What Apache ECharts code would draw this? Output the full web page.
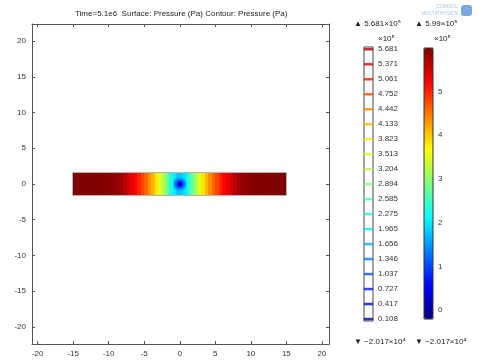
<!DOCTYPE html>
<html>
<head>
<meta charset="utf-8">
<script src="https://cdn.jsdelivr.net/npm/echarts@6/dist/echarts.min.js"></script>
<style>
  html, body { margin: 0; padding: 0; background: #fff; }
  #chart { width: 480px; height: 360px; }
</style>
</head>
<body>
<div id="chart"></div>
<script>
// pressure in units of 1e5 Pa
const pMin = -0.2017
const pMax = 5.99

// surface: pressure per 0.5-wide column along the strip, x = -15 .. 15
const stripX = [-15, 15]
const stripY = [-1.5, 1.5]
const cellWidth = 0.5
const columnValue = [
  5.99, 5.99, 5.99, 5.99, 5.99, 5.98, 5.98, 5.97, 5.96, 5.95,
  5.93, 5.9, 5.85, 5.78, 5.65, 5.5, 5.35, 5.2, 5.0, 4.8,
  4.6, 4.35, 4.1, 3.8, 3.5, 3.15, 2.75, 2.3, 2.0, 1.8,
  1.8, 2.0, 2.3, 2.75, 3.15, 3.5, 3.8, 4.1, 4.35, 4.6,
  4.8, 5.0, 5.2, 5.35, 5.5, 5.65, 5.78, 5.85, 5.9, 5.93,
  5.95, 5.96, 5.97, 5.98, 5.98, 5.99, 5.99, 5.99, 5.99, 5.99
]

// low-pressure spot round the well at the centre
const wellX = 0
const wellY = 0
const coreRadius = [0.95, 0.7, 0.45, 0.28, 0.14]
const coreValue = [1.6, 1.2, 0.8, 0.35, 0.0]

// contour levels shown in the left legend
const contourLevels = [
  5.681, 5.371, 5.061, 4.752, 4.442, 4.133, 3.823, 3.513, 3.204, 2.894,
  2.585, 2.275, 1.965, 1.656, 1.346, 1.037, 0.727, 0.417, 0.108
]

const axisTicks = [-20, -15, -10, -5, 0, 5, 10, 15, 20]
const colorbarTicks = [0, 1, 2, 3, 4, 5]

const jet = ['#00007f', '#0000ff', '#007fff', '#00ffff', '#7fff7f', '#ffff00', '#ff7f00', '#ff0000', '#7f0000']
const font = 'Liberation Sans'
const txt = '#222'

const columnData = columnValue.map((v, i) => [stripX[0] + (i + 0.5) * cellWidth, v])
const coreData = coreRadius.map((r, i) => [r, coreValue[i]])

const mainAxisX = (position, showLabel) => ({
  type: 'value', gridIndex: 0, position: position,
  min: -20.8, max: 21.0,
  axisLine: { show: true, onZero: false, lineStyle: { color: '#555' } },
  axisTick: { show: true, inside: true, length: 3, customValues: axisTicks, lineStyle: { color: '#555' } },
  axisLabel: { show: showLabel, customValues: axisTicks, fontSize: 8, color: '#333', fontFamily: font, margin: 6 },
  splitLine: { show: false }
})
const mainAxisY = (position, showLabel) => ({
  type: 'value', gridIndex: 0, position: position,
  min: -22.4, max: 22.4,
  axisLine: { show: true, onZero: false, lineStyle: { color: '#555' } },
  axisTick: { show: true, inside: true, length: 3, customValues: axisTicks, lineStyle: { color: '#555' } },
  axisLabel: { show: showLabel, customValues: axisTicks, fontSize: 8, color: '#333', fontFamily: font, margin: 6 },
  splitLine: { show: false }
})

// text with a superscript exponent
const supText = (left, top, text) => ({
  type: 'text', left: left, top: top,
  style: {
    text: text,
    fill: txt,
    rich: {
      a: { fontSize: 8, fontFamily: font, fill: txt },
      s: { fontSize: 8, fontFamily: 'DejaVu Sans', fill: txt }
    }
  }
})

const chart = echarts.init(document.getElementById('chart'))

chart.setOption({
  animation: false,
  backgroundColor: '#fff',
  title: {
    text: 'Time=5.1e6  Surface: Pressure (Pa) Contour: Pressure (Pa)',
    left: 70, top: 5,
    textStyle: { fontSize: 8, fontWeight: 'normal', color: txt, fontFamily: font }
  },
  grid: [
    { left: 32, top: 24, width: 297, height: 320 },
    { left: 364, top: 47, width: 9, height: 274, show: true, backgroundColor: '#fff', borderColor: '#444', borderWidth: 1 },
    { left: 424, top: 48, width: 9, height: 271, show: true, backgroundColor: 'transparent', borderColor: '#333', borderWidth: 1, z: 6 }
  ],
  xAxis: [
    mainAxisX('bottom', true),
    mainAxisX('top', false),
    { type: 'value', gridIndex: 1, min: 0, max: 1, show: false },
    { type: 'value', gridIndex: 2, min: 0, max: 1, show: false }
  ],
  yAxis: [
    mainAxisY('left', true),
    mainAxisY('right', false),
    {
      type: 'value', gridIndex: 1, position: 'right', min: 0.067, max: 5.728,
      axisLine: { show: false }, axisTick: { show: false }, splitLine: { show: false },
      axisLabel: { customValues: contourLevels, formatter: v => v.toFixed(3), fontSize: 8, color: '#333', fontFamily: font, margin: 5 }
    },
    {
      type: 'value', gridIndex: 2, position: 'right', min: pMin, max: pMax,
      axisLine: { show: false }, splitLine: { show: false },
      axisTick: { show: true, length: 2, customValues: colorbarTicks, lineStyle: { color: '#333' } },
      axisLabel: { customValues: colorbarTicks, fontSize: 8, color: '#333', fontFamily: font, margin: 5 }
    }
  ],
  visualMap: {
    type: 'continuous',
    seriesIndex: [0, 1, 3],
    dimension: 1,
    min: pMin, max: pMax,
    calculable: false,
    realtime: false,
    text: null,
    showLabel: false,
    orient: 'vertical',
    left: 424, top: 48,
    itemWidth: 9, itemHeight: 271,
    padding: 0,
    inRange: { color: jet }
  },
  graphic: [
    supText(354, 20, '{a|▲ 5.681×10}{s|⁵}'),
    supText(415, 20, '{a|▲ 5.99×10}{s|⁵}'),
    supText(378, 35, '{a|×10}{s|⁵}'),
    supText(434, 35, '{a|×10}{s|⁵}'),
    supText(354, 338, '{a|▼ −2.017×10}{s|⁴}'),
    supText(415, 338, '{a|▼ −2.017×10}{s|⁴}'),
    { type: 'text', right: 22, top: 4, style: { text: 'COMSOL', font: '5px ' + font, fill: '#a9c6e6', align: 'right' } },
    { type: 'text', right: 22, top: 11, style: { text: 'MULTIPHYSICS', font: '5px ' + font, fill: '#a9c6e6', align: 'right' } },
    { type: 'rect', right: 8, top: 5, shape: { width: 11, height: 11, r: 3 }, style: { fill: '#7aa9dc' } }
  ],
  series: [
    {
      type: 'custom', name: 'surface', xAxisIndex: 0, yAxisIndex: 0,
      data: columnData,
      renderItem: (params, api) => {
        const x = api.value(0)
        const p0 = api.coord([x - cellWidth / 2, stripY[1]])
        const p1 = api.coord([x + cellWidth / 2, stripY[0]])
        const x0 = Math.round(p0[0])
        const x1 = Math.round(p1[0])
        return {
          type: 'rect',
          shape: { x: x0, y: Math.round(p0[1]), width: x1 - x0, height: Math.round(p1[1]) - Math.round(p0[1]) },
          style: { fill: api.visual('color') }
        }
      }
    },
    {
      type: 'custom', name: 'well', xAxisIndex: 0, yAxisIndex: 0,
      data: coreData,
      renderItem: (params, api) => {
        const r = api.value(0)
        const c = api.coord([wellX, wellY])
        const s = api.size([r, r])
        return {
          type: 'ellipse',
          shape: { cx: c[0], cy: c[1], rx: s[0], ry: s[1] },
          style: { fill: api.visual('color') }
        }
      }
    },
    {
      type: 'custom', name: 'outline', xAxisIndex: 0, yAxisIndex: 0,
      data: [[stripX[0], stripY[1]]],
      renderItem: (params, api) => {
        const p0 = api.coord([stripX[0], stripY[1]])
        const p1 = api.coord([stripX[1], stripY[0]])
        return {
          type: 'rect',
          shape: { x: Math.round(p0[0]) - 0.5, y: Math.round(p0[1]) - 0.5, width: Math.round(p1[0]) - Math.round(p0[0]) + 1, height: Math.round(p1[1]) - Math.round(p0[1]) + 1 },
          style: { fill: 'none', stroke: '#b5b5b5', lineWidth: 1 }
        }
      }
    },
    {
      type: 'scatter', name: 'levels', xAxisIndex: 2, yAxisIndex: 2,
      symbol: 'rect', symbolSize: [9, 2.5],
      data: contourLevels.map(v => [0.5, v])
    }
  ]
})
</script>
</body>
</html>
